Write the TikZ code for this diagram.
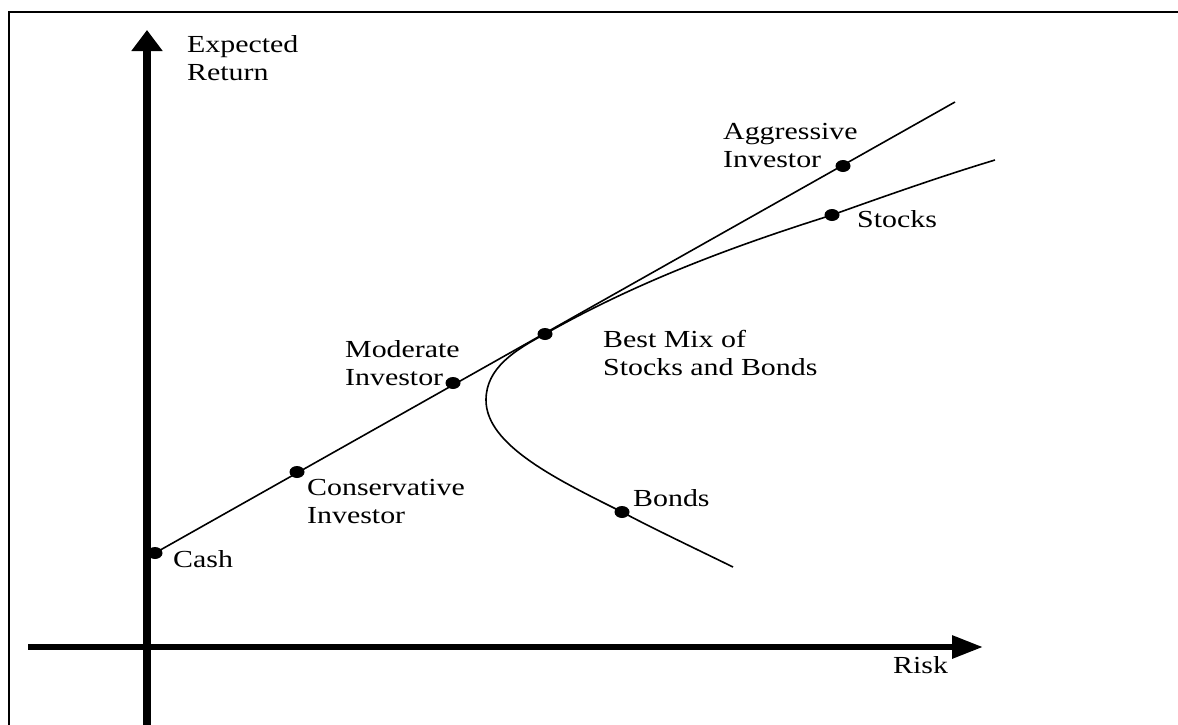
\documentclass[tikz,border=0pt]{standalone}
\usepackage{fontspec}
\setmainfont{Liberation Serif}
\newfontfamily\plotfont[FakeStretch=1.22]{Liberation Serif}
\usetikzlibrary{arrows.meta}

\begin{document}
\begin{tikzpicture}[x=1pt,y=-1pt,
  lbl/.style={font=\plotfont\fontsize{24.5}{27.5}\selectfont,align=left,anchor=base west,inner sep=0pt},
  curve/.style={line width=1.6pt},
  dotmark/.style={x radius=7.5pt,y radius=6pt}]
  \useasboundingbox (0,0) rectangle (1178,724);
  \fill[white] (0,0) rectangle (1178,724);
  \draw[line width=2pt] (9,740)--(9,12)--(1190,12);
  % axes
  \coordinate (ybot) at (147,740);
  \coordinate (ytip) at (147,30);
  \coordinate (xleft) at (28,647);
  \coordinate (xtip) at (983,647);
  \draw[line width=7.5pt,-{Triangle[width=30pt,length=21pt]}] (ybot)--(ytip);
  \draw[line width=6pt,-{Triangle[width=22pt,length=31pt]}] (xleft)--(xtip);
  \node[lbl] (ylabel) at (187,80) {Expected\\Return};
  \node[lbl] (xlabel) at (893,673) {Risk};
  % points
  \coordinate (cash) at (155,553);
  \coordinate (conservative) at (297,472);
  \coordinate (moderate) at (453,383);
  \coordinate (best) at (545,334);
  \coordinate (aggressive) at (843,166);
  \coordinate (cmlend) at (955,102);
  \coordinate (fend) at (733,567);
  \coordinate (bonds) at (622,512);
  \coordinate (stocks) at (832,215);
  \coordinate (ftop) at (995,160);
  % capital market line and frontier
  \draw[curve] (cash)--(cmlend);
  \draw[curve] (fend) .. controls (690,546) and (650,527) .. (bonds)
    .. controls (556,479) and (486,445) .. (486,400)
    .. controls (486,368) and (515,350) .. (best)
    .. controls (640,280) and (740,244) .. (stocks)
    .. controls (885,196) and (945,175) .. (ftop);
  \foreach \p in {cash,conservative,moderate,best,aggressive,bonds,stocks}
    \fill (\p) ellipse [dotmark];
  \node[lbl] (cashlabel) at (173,567) {Cash};
  \node[lbl] (conslabel) at (307,523) {Conservative\\Investor};
  \node[lbl] (modlabel) at (345,385) {Moderate\\Investor};
  \node[lbl] (bestlabel) at (603,375) {Best Mix of\\Stocks and Bonds};
  \node[lbl] (aggrlabel) at (723,167) {Aggressive\\Investor};
  \node[lbl] (stockslabel) at (857,227) {Stocks};
  \node[lbl] (bondslabel) at (633,506) {Bonds};
\end{tikzpicture}
\end{document}
